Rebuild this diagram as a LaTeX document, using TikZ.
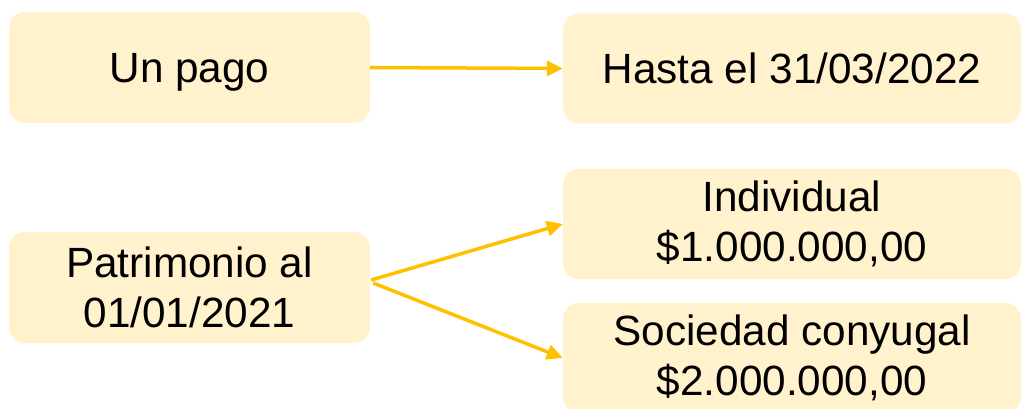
\documentclass[tikz,border=0pt]{standalone}
\usepackage{fontspec}
\setmainfont{Liberation Sans}
\usetikzlibrary{arrows.meta}
\definecolor{boxfill}{HTML}{FFF2CC}
\definecolor{arrowcol}{HTML}{FFC000}

\begin{document}
\begin{tikzpicture}[x=1pt,y=-1pt,
    box/.style={fill=boxfill,rounded corners=16pt,align=center,inner sep=0pt,
      font=\fontsize{42.3}{50}\selectfont},
    leftbox/.style={box,minimum width=361pt,minimum height=111pt},
    rightbox/.style={box,minimum width=458pt,minimum height=110pt},
    link/.style={draw=arrowcol,line width=3.5pt,-{Triangle[length=16pt,width=15pt]}}]
    \useasboundingbox (0,0) rectangle (1023,409);
    \node[leftbox,text depth=0pt] (pago) at (189.5,67.5) {Un pago};
    \node[rightbox] (hasta) at (792,68.5) {Hasta el 31/03/2022};
    \node[leftbox] (patrimonio) at (189.5,287.5) {Patrimonio al\\01/01/2021};
    \node[rightbox] (individual) at (792,224) {Individual\\\$1.000.000,00};
    \node[rightbox] (sociedad) at (792,358) {Sociedad conyugal\\\$2.000.000,00};
    \draw[link] (pago.east) -- (hasta.west);
    \draw[link] ([yshift=7.5pt,xshift=1pt]patrimonio.east) -- (individual.west);
    \draw[link] ([yshift=4.5pt,xshift=3pt]patrimonio.east) -- (sociedad.west);
  \end{tikzpicture}
\end{document}
